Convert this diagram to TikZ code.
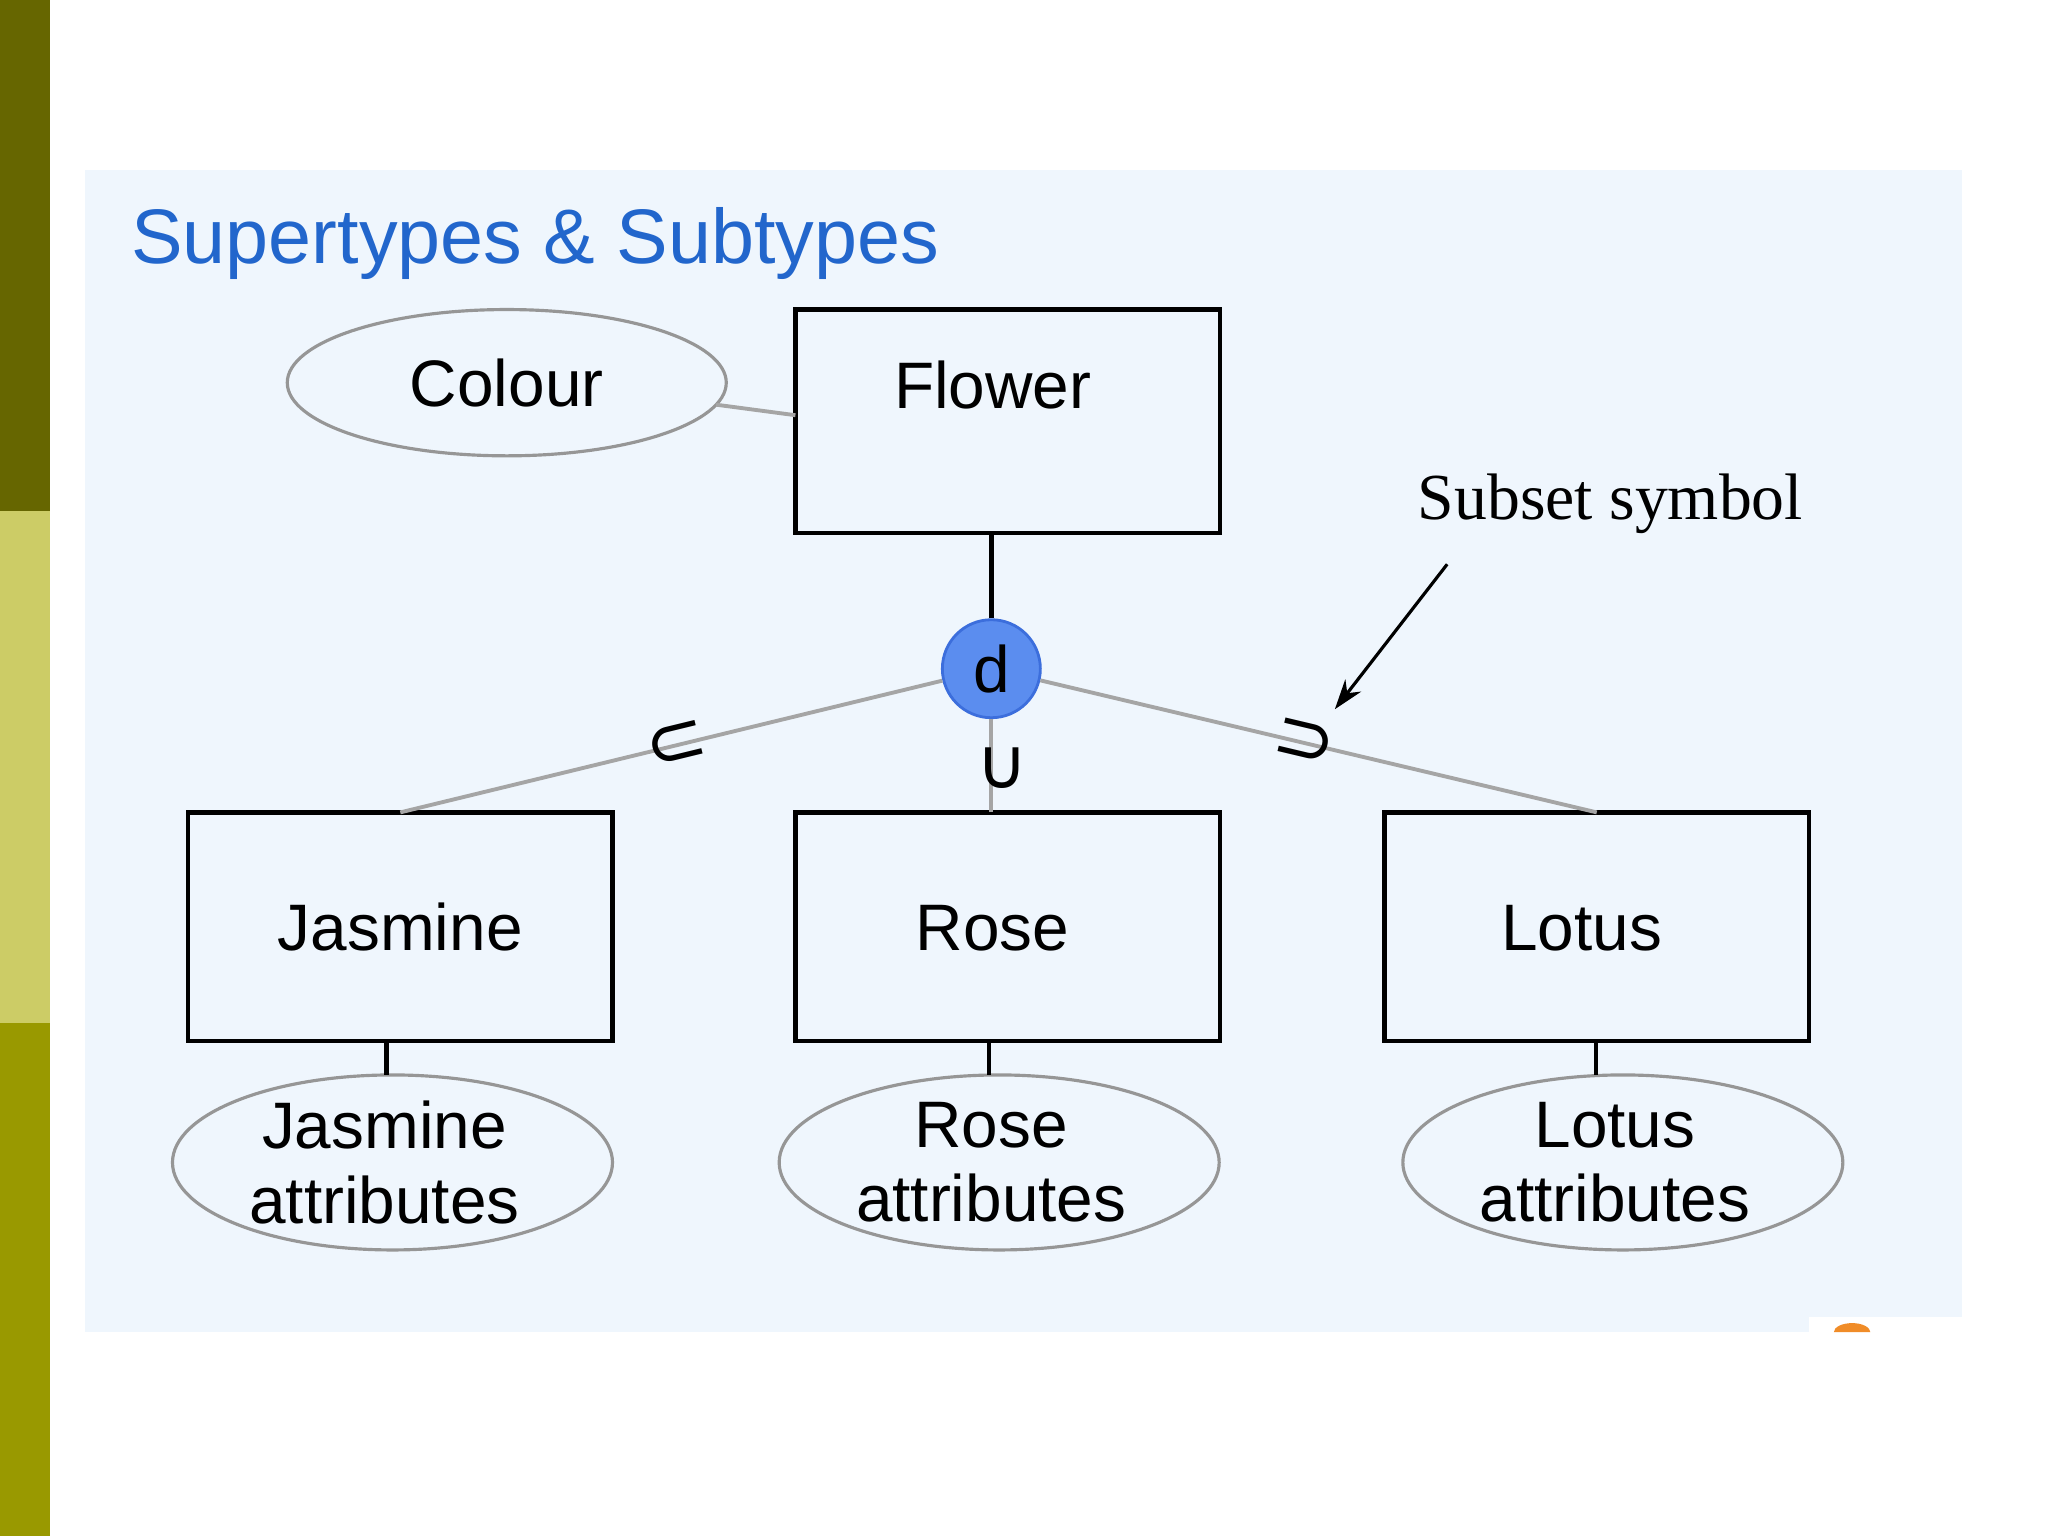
\documentclass[tikz,border=0pt]{standalone}
\usepackage{fontspec}
\setmainfont{Liberation Sans}
\newfontfamily\timesfont{Liberation Serif}
\newfontfamily\symfont{DejaVu Sans}
\usetikzlibrary{arrows.meta,shapes.geometric}
\definecolor{barA}{RGB}{102,102,0}
\definecolor{barB}{RGB}{204,204,102}
\definecolor{barC}{RGB}{153,153,0}
\definecolor{panel}{RGB}{239,246,253}
\definecolor{titleblue}{RGB}{34,102,204}
\definecolor{dfill}{RGB}{91,141,239}
\definecolor{dborder}{RGB}{60,110,220}
\definecolor{lgray}{RGB}{165,165,165}
\definecolor{egray}{RGB}{150,150,150}
\definecolor{markorange}{RGB}{240,140,40}
\newcommand{\padr}[1]{\hspace{#1}\mbox{}}
\tikzset{
  bodyfont/.style={font=\fontsize{18.7}{21.2}\selectfont},
  entity/.style={draw=black, line width=1.3pt, rectangle, inner sep=0pt, outer sep=0pt,
    minimum width=4.245cm, minimum height=2.286cm, bodyfont, text height=0.47cm, text depth=0cm},
  attr/.style={draw=egray, line width=0.9pt, ellipse, inner sep=0pt, outer sep=0pt,
    minimum width=4.40cm, minimum height=1.75cm, bodyfont, align=center},
  disc/.style={draw=dborder, line width=0.8pt, fill=dfill, ellipse, inner sep=0pt,
    minimum width=0.98cm, minimum height=0.98cm, bodyfont},
  grayline/.style={draw=lgray, line width=1.1pt},
  blackline/.style={draw=black, line width=1.3pt},
  symb/.style={font=\symfont\fontsize{21}{21}\selectfont, inner sep=0pt},
}
\begin{document}
\begin{tikzpicture}[x=0.013061cm, y=-0.013061cm]
\useasboundingbox (0,0) rectangle (1568,1176);
% left bar
\fill[barA] (0,0) rectangle (38,391);
\fill[barB] (0,391) rectangle (38,783);
\fill[barC] (0,783) rectangle (38,1176);
% panel
\fill[panel] (65,130) rectangle (1502,1020);
\fill[white] (1385,1008) rectangle (1502,1021);
\fill[markorange] (1404,1020) arc[start angle=180, end angle=0, x radius=14, y radius=-7] -- cycle;
% title
\node[anchor=base west, inner sep=0pt, text=titleblue, font=\fontsize{22}{24}\selectfont] (title) at (100,202) {Supertypes \& Subtypes};
% nodes
\node[attr, minimum width=4.39cm, minimum height=1.463cm, text height=0.47cm, text depth=0cm] (colour) at (388,293) {Colour};
\node[entity, minimum height=2.233cm, text depth=0.72cm] (flower) at (771.5,322.5) {Flower\padr{0.3cm}};
\node[disc] (d) at (759,512) {d};
\node[entity] (jasmine) at (306.5,709.5) {Jasmine};
\node[entity] (rose) at (771.5,709.5) {Rose\padr{0.3cm}};
\node[entity] (lotus) at (1222.5,709.5) {Lotus\padr{0.3cm}};
\node[attr] (jatt) at (300.5,890) {Jasmine\padr{0.16cm}\\attributes\padr{0.16cm}};
\node[attr] (ratt) at (765,890) {Rose\padr{0.16cm}\\attributes\padr{0.16cm}};
\node[attr] (latt) at (1242.5,890) {Lotus\padr{0.16cm}\\attributes\padr{0.16cm}};
\node[anchor=base, inner sep=0pt, font=\timesfont\fontsize{18.7}{21}\selectfont] (sublabel) at (1233,398) {Subset symbol};
% connectors
\draw[grayline] (colour.-6) -- ([yshift=0.06cm]flower.west);
\draw[blackline] (d) -- (d |- flower.south);
\draw[grayline] (d) -- (jasmine.north) node[pos=0.49, sloped, symb] (s1) {⊂};
\draw[grayline] (d) -- (lotus.north) node[pos=0.474, sloped, symb] (s3) {⊃};
\draw[grayline] (d) -- (d |- rose.north);
\node[symb, font=\symfont\fontsize{20}{20}\selectfont] (s2) at (767,588) {∪};
\coordinate (jc) at ([xshift=-0.06cm]jatt.north);
\coordinate (rc) at ([xshift=-0.10cm]ratt.north);
\coordinate (lc) at ([xshift=-0.27cm]latt.north);
\draw[blackline] (jc |- jasmine.south) -- (jc);
\draw[blackline] (rc |- rose.south) -- (rc);
\draw[blackline] (lc |- lotus.south) -- (lc);
% pointer arrow
\coordinate (ptrA) at (1108,432);
\coordinate (ptrB) at (1022,543);
\draw[black, line width=0.9pt, -{Stealth[length=0.3cm, width=0.2cm]}] (ptrA) -- (ptrB);
\end{tikzpicture}
\end{document}
